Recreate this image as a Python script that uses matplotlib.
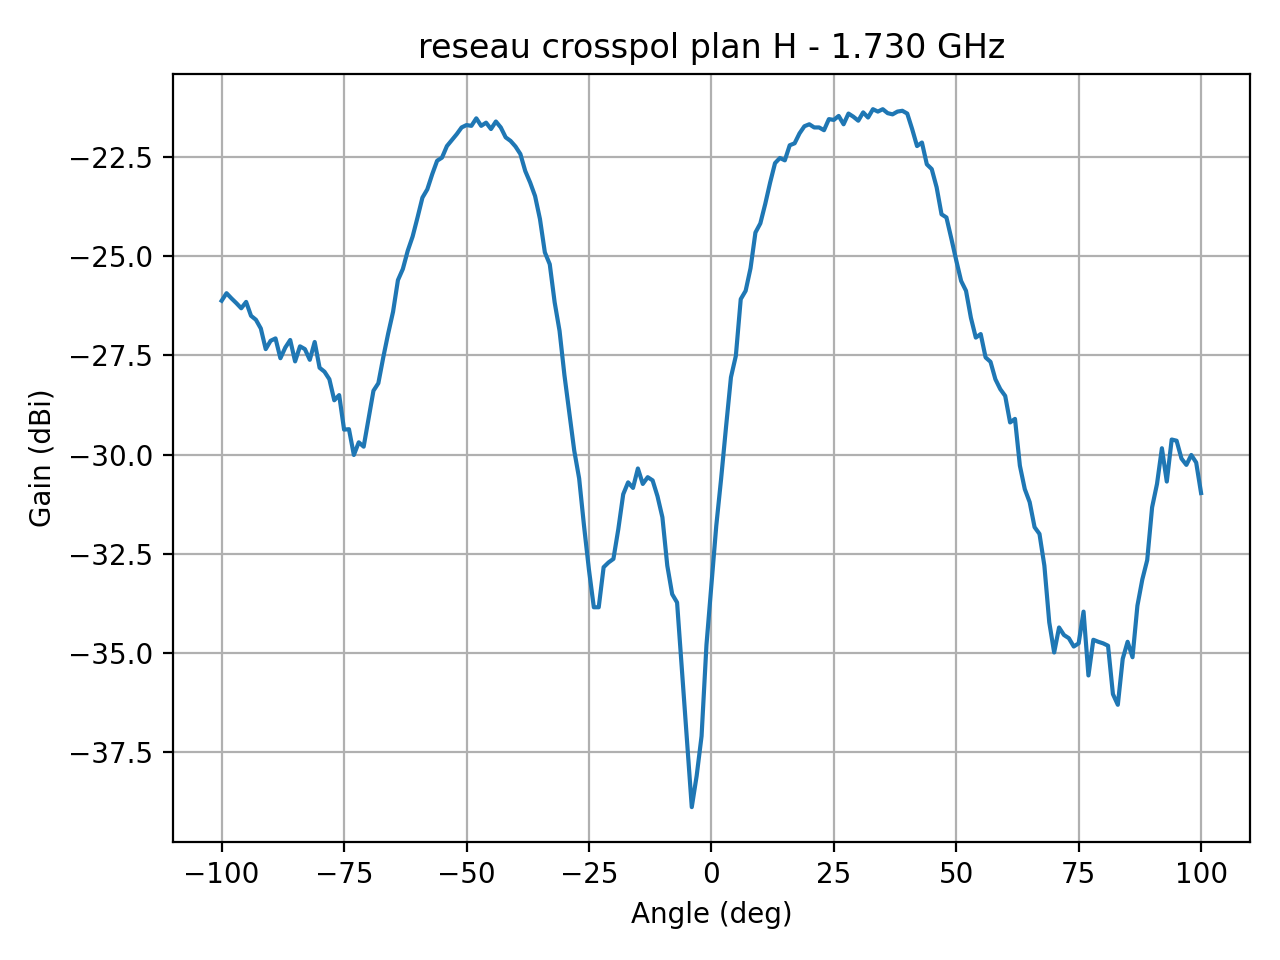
import numpy as np
import matplotlib
matplotlib.use("Agg")
import matplotlib.pyplot as plt

angles = np.arange(-100, 101, 1)

gain_neg = [
    -26.12, -25.93, -26.06, -26.18, -26.31, -26.15, -26.50, -26.60, -26.82, -27.34,  # -100..-91
    -27.13, -27.07, -27.57, -27.30, -27.11, -27.65, -27.27, -27.34, -27.61, -27.16,  # -90..-81
    -27.81, -27.91, -28.10, -28.63, -28.50, -29.37, -29.36, -30.01, -29.69, -29.80,  # -80..-71
    -29.10, -28.39, -28.20, -27.55, -26.95, -26.40, -25.60, -25.32, -24.86, -24.50,  # -70..-61
    -24.02, -23.52, -23.31, -22.93, -22.59, -22.51, -22.22, -22.07, -21.92, -21.75,  # -60..-51
    -21.69, -21.71, -21.52, -21.71, -21.63, -21.79, -21.60, -21.75, -22.00, -22.09,  # -50..-41
    -22.23, -22.42, -22.85, -23.14, -23.48, -24.06, -24.90, -25.20, -26.16, -26.88,  # -40..-31
    -28.00, -28.95, -29.90, -30.60, -31.80, -32.90, -33.85, -33.85, -32.84, -32.72,  # -30..-21
    -32.63, -31.88, -31.00, -30.70, -30.84, -30.35, -30.74, -30.57, -30.65, -31.05,  # -20..-11
    -31.58, -32.80, -33.52, -33.73, -35.45, -37.17, -38.89, -38.10, -37.10, -34.80,  # -10..-1
]
gain_pos = [
    -33.30,                                                                          # 0
    -31.80, -30.60, -29.30, -28.05, -27.51, -26.08, -25.87, -25.30, -24.40, -24.17,  # 1..10
    -23.68, -23.14, -22.65, -22.52, -22.58, -22.20, -22.15, -21.90, -21.72, -21.67,  # 11..20
    -21.75, -21.75, -21.82, -21.54, -21.56, -21.46, -21.67, -21.40, -21.48, -21.58,  # 21..30
    -21.37, -21.50, -21.29, -21.35, -21.29, -21.39, -21.42, -21.35, -21.33, -21.40,  # 31..40
    -21.79, -22.22, -22.13, -22.68, -22.80, -23.26, -23.94, -24.02, -24.55, -25.10,  # 41..50
    -25.62, -25.87, -26.55, -27.05, -26.96, -27.55, -27.66, -28.10, -28.35, -28.52,  # 51..60
    -29.19, -29.10, -30.28, -30.87, -31.20, -31.83, -32.00, -32.80, -34.23, -34.99,  # 61..70
    -34.36, -34.55, -34.63, -34.84, -34.76, -33.96, -35.57, -34.67, -34.72, -34.76,  # 71..80
    -34.82, -36.04, -36.31, -35.15, -34.72, -35.11, -33.81, -33.15, -32.66, -31.33,  # 81..90
    -30.74, -29.84, -30.68, -29.62, -29.65, -30.10, -30.26, -30.01, -30.20, -30.97,  # 91..100
]
gain = np.array(gain_neg + gain_pos)

title = "reseau crosspol plan H - 1.730 GHz"
xlabel = "Angle (deg)"
ylabel = "Gain (dBi)"

fig, ax = plt.subplots(figsize=(6.4, 4.8), dpi=200)
ax.plot(angles, gain)
ax.set_title(title)
ax.set_xlabel(xlabel)
ax.set_ylabel(ylabel)
ax.grid(True)
fig.subplots_adjust(left=0.1349, right=0.9766, bottom=0.1229, top=0.9226)
fig.savefig("out.png", dpi=200)
